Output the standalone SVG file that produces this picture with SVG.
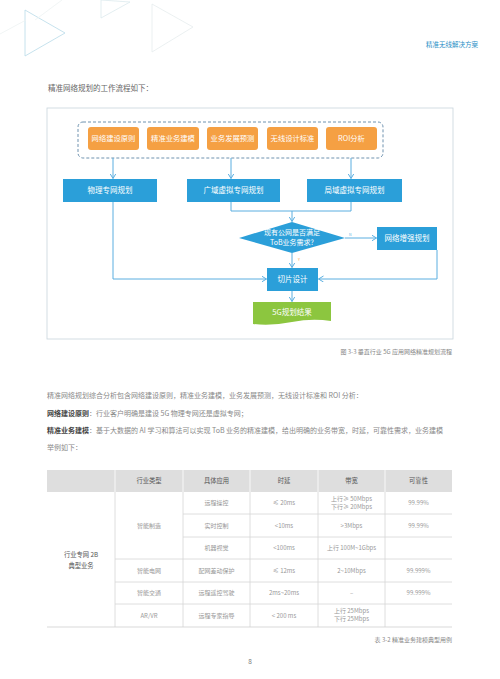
<svg xmlns="http://www.w3.org/2000/svg" width="500" height="679" viewBox="0 0 500 679">
<style>
text{font-family:"Noto Sans CJK SC","Noto Sans",sans-serif}
.or{fill:#f5a043}
.bl{fill:#2b9fd9}
.wt{fill:#fff;font-size:7.5px;text-anchor:middle}
.ow{fill:#fff;font-size:7.3px;text-anchor:middle}
.cn{stroke:#5aaee0;stroke-width:1;fill:none}
.p{font-size:7px;fill:#888}
.pb{font-weight:bold;fill:#444}
.th{font-size:6.3px;fill:#555;text-anchor:middle}
.td{font-size:6px;fill:#999;text-anchor:middle}
.gl{stroke:#d6d6d6;stroke-width:0.8}
.cap{font-size:6px;fill:#888;text-anchor:end}
</style>
<defs>
<marker id="ah" markerWidth="7" markerHeight="7" refX="5" refY="3" orient="auto" markerUnits="userSpaceOnUse">
<path d="M0,0 L5,3 L0,6" fill="none" stroke="#5aaee0" stroke-width="1"/>
</marker>
</defs>
<rect width="500" height="679" fill="#fff"/>
<g fill="none" stroke-width="0.8">
<polygon points="25,10 25,56 65,33" stroke="#b7dbe8"/>
<polygon points="101,0 101,18 130,2" stroke="#dceaee"/>
<polygon points="152,4 152,52 193,27" stroke="#e6ecee"/>
<line x1="0" y1="34" x2="26" y2="20" stroke="#eef2f3"/>
<line x1="35" y1="20" x2="62" y2="0" stroke="#eef2f3"/>
</g>
<text x="478" y="47" font-size="6.5" fill="#2a8fc6" text-anchor="end">精准无线解决方案</text>
<text x="48" y="91" font-size="7.5" fill="#666">精准网络规划的工作流程如下：</text>
<rect x="47" y="108" width="406" height="231" fill="none" stroke="#c8d5dd" stroke-width="0.8"/>
<g id="inputs">
<rect x="78" y="122" width="305" height="36" rx="5" fill="none" stroke="#5d86a6" stroke-width="0.9" stroke-dasharray="3,2"/>
<g id="n1"><rect class="or" x="88" y="127" width="51" height="23" rx="3"/><text class="ow" x="113.5" y="141">网络建设原则</text></g>
<g id="n2"><rect class="or" x="147" y="127" width="52" height="23" rx="3"/><text class="ow" x="173" y="141">精准业务建模</text></g>
<g id="n3"><rect class="or" x="207" y="127" width="51" height="23" rx="3"/><text class="ow" x="232.5" y="141">业务发展预测</text></g>
<g id="n4"><rect class="or" x="267" y="127" width="51" height="23" rx="3"/><text class="ow" x="292.5" y="141">无线设计标准</text></g>
<g id="n5"><rect class="or" x="326" y="127" width="51" height="23" rx="3"/><text class="ow" x="351.5" y="141">ROI分析</text></g>
</g>
<g id="b1"><rect class="bl" x="63" y="179" width="94" height="23"/><text class="wt" x="110" y="193">物理专网规划</text></g>
<g id="b2"><rect class="bl" x="187" y="179" width="93" height="23"/><text class="wt" x="233.5" y="193">广域虚拟专网规划</text></g>
<g id="b3"><rect class="bl" x="307" y="179" width="95" height="23"/><text class="wt" x="354.5" y="193">局域虚拟专网规划</text></g>
<g id="d1"><polygon class="bl" points="239,238 292,222 345,238 292,253"/><text class="wt" x="292" y="235" style="font-size:7px">现有公网是否满足</text><text class="wt" x="292" y="245" style="font-size:7px">ToB业务需求?</text></g>
<g id="b4"><rect class="bl" x="377" y="227" width="60" height="23"/><text class="wt" x="407" y="241">网络增强规划</text></g>
<g id="b5"><rect class="bl" x="267" y="268" width="51" height="23"/><text class="wt" x="292.5" y="282">切片设计</text></g>
<g id="b6"><path d="M253,302 H331 V321 Q312,318 292,322 Q272,326 253,324 Z" fill="#8cc63f"/><text class="wt" x="292" y="315">5G规划结果</text></g>
<g id="connectors">
<line class="cn" x1="113" y1="158" x2="113" y2="178.5" marker-end="url(#ah)"/>
<line class="cn" x1="231" y1="158" x2="231" y2="178.5" marker-end="url(#ah)"/>
<line class="cn" x1="351" y1="158" x2="351" y2="178.5" marker-end="url(#ah)"/>
<polyline class="cn" points="231,202 231,211 351,211 351,202"/>
<line class="cn" x1="292" y1="211" x2="292" y2="221.5" marker-end="url(#ah)"/>
<line class="cn" x1="345" y1="238" x2="376.5" y2="238" marker-end="url(#ah)"/>
<line class="cn" x1="292" y1="253" x2="292" y2="267.5" marker-end="url(#ah)"/>
<polyline class="cn" points="113,202 113,279 266.5,279" marker-end="url(#ah)"/>
<polyline class="cn" points="437,250 437,279 318.5,279" marker-end="url(#ah)"/>
<line class="cn" x1="292" y1="291" x2="292" y2="301.5" marker-end="url(#ah)"/>
<text x="349" y="236" font-size="3.5" fill="#5aaee0">N</text>
<text x="298" y="261" font-size="3.5" fill="#f5a043">Y</text>
</g>
<text class="cap" x="452" y="354">图 3-3 垂直行业 5G 应用网络精准规划流程</text>
<text class="p" x="47" y="398">精准网络规划综合分析包含网络建设原则，精准业务建模，业务发展预测，无线设计标准和 ROI 分析：</text>
<text class="p" x="47" y="416"><tspan class="pb">网络建设原则</tspan>：行业客户明确是建设 5G 物理专网还是虚拟专网；</text>
<text class="p" x="47" y="433"><tspan class="pb">精准业务建模</tspan>：基于大数据的 AI 学习和算法可以实现 ToB 业务的精准建模，给出明确的业务带宽，时延，可靠性需求，业务建模</text>
<text class="p" x="47" y="450">举例如下：</text>
<g id="table">
<rect x="47" y="470" width="405" height="22" fill="#dedede"/>
<g stroke="#fff" stroke-width="0.8"><line x1="115" y1="470" x2="115" y2="492"/><line x1="183" y1="470" x2="183" y2="492"/><line x1="250" y1="470" x2="250" y2="492"/><line x1="318" y1="470" x2="318" y2="492"/><line x1="385" y1="470" x2="385" y2="492"/></g>
<g class="gl">
<line x1="115" y1="492" x2="115" y2="627"/><line x1="183" y1="492" x2="183" y2="627"/><line x1="250" y1="492" x2="250" y2="627"/><line x1="318" y1="492" x2="318" y2="627"/><line x1="385" y1="492" x2="385" y2="627"/>
<line x1="183" y1="514" x2="452" y2="514"/><line x1="183" y1="537" x2="452" y2="537"/>
<line x1="115" y1="559" x2="452" y2="559"/><line x1="115" y1="582" x2="452" y2="582"/><line x1="115" y1="604" x2="452" y2="604"/>
<line x1="47" y1="627" x2="452" y2="627" stroke="#cfcfcf"/>
</g>
<text class="th" x="149" y="483">行业类型</text><text class="th" x="216.5" y="483">具体应用</text><text class="th" x="284" y="483">时延</text><text class="th" x="351.5" y="483">带宽</text><text class="th" x="418.5" y="483">可靠性</text>
<text class="th" x="81" y="557">行业专网 2B</text><text class="th" x="81" y="568">典型业务</text>
<text class="td" x="149" y="528">智能制造</text>
<text class="td" x="216.5" y="505">远程操控</text><text class="td" x="284" y="505">≤ 20ms</text><text class="td" x="351.5" y="501">上行≥ 50Mbps</text><text class="td" x="351.5" y="509">下行≥ 20Mbps</text><text class="td" x="418.5" y="505">99.99%</text>
<text class="td" x="216.5" y="527.5">实时控制</text><text class="td" x="284" y="527.5">&lt;10ms</text><text class="td" x="351.5" y="527.5">&gt;3Mbps</text><text class="td" x="418.5" y="527.5">99.99%</text>
<text class="td" x="216.5" y="550">机器视觉</text><text class="td" x="284" y="550">&lt;100ms</text><text class="td" x="351.5" y="550">上行 100M~1Gbps</text>
<text class="td" x="149" y="572.5">智能电网</text><text class="td" x="216.5" y="572.5">配网差动保护</text><text class="td" x="284" y="572.5">≤ 12ms</text><text class="td" x="351.5" y="572.5">2~10Mbps</text><text class="td" x="418.5" y="572.5">99.999%</text>
<text class="td" x="149" y="595">智能交通</text><text class="td" x="216.5" y="595">远程遥控驾驶</text><text class="td" x="284" y="595">2ms~20ms</text><text class="td" x="351.5" y="595">–</text><text class="td" x="418.5" y="595">99.999%</text>
<text class="td" x="149" y="617.5">AR/VR</text><text class="td" x="216.5" y="617.5">远程专家指导</text><text class="td" x="284" y="617.5">&lt; 200 ms</text><text class="td" x="351.5" y="613">上行 25Mbps</text><text class="td" x="351.5" y="621">下行 25Mbps</text>
</g>
<text class="cap" x="452" y="642">表 3-2 精准业务建模典型用例</text>
<text x="250" y="664" font-size="6.5" fill="#777" text-anchor="middle">8</text>
</svg>
